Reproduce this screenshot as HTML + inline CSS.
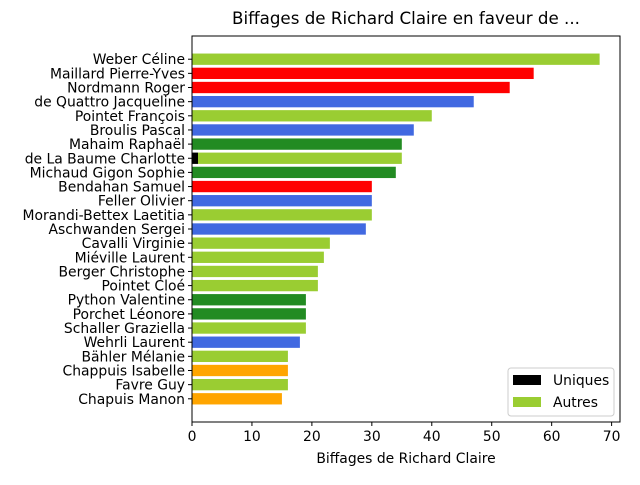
<!DOCTYPE html>
<html><head><meta charset="utf-8"><style>
body{margin:0;background:#fff;}
svg text{font-family:"DejaVu Sans","Liberation Sans",sans-serif;fill:#000;}
</style></head><body>
<svg id="chart" width="640" height="480">
<text x="406" y="24" font-size="16.7" text-anchor="middle">Biffages de Richard Claire en faveur de ...</text>
<g id="bars"></g>
<g id="axes"></g>
<text x="406" y="463" font-size="13.9" text-anchor="middle">Biffages de Richard Claire</text>
<g>
<rect x="508" y="368" width="106" height="48" fill="#fff" stroke="#ccc" rx="3"/>
<rect x="513" y="375" width="28" height="10" fill="#000"/>
<text x="553" y="385" font-size="13.9">Uniques</text>
<rect x="513" y="397" width="28" height="10" fill="#9acd32"/>
<text x="553" y="407" font-size="13.9">Autres</text>
</g>
</svg>
<script>
const names=["Weber Céline","Maillard Pierre-Yves","Nordmann Roger","de Quattro Jacqueline","Pointet François","Broulis Pascal","Mahaim Raphaël","de La Baume Charlotte","Michaud Gigon Sophie","Bendahan Samuel","Feller Olivier","Morandi-Bettex Laetitia","Aschwanden Sergei","Cavalli Virginie","Miéville Laurent","Berger Christophe","Pointet Cloé","Python Valentine","Porchet Léonore","Schaller Graziella","Wehrli Laurent","Bähler Mélanie","Chappuis Isabelle","Favre Guy","Chapuis Manon"];
const autres=[68,57,53,47,40,37,35,34,34,30,30,30,29,23,22,21,21,19,19,19,18,16,16,16,15];
const uniques=[0,0,0,0,0,0,0,1,0,0,0,0,0,0,0,0,0,0,0,0,0,0,0,0,0];
const colors=["#9acd32","#ff0000","#ff0000","#4169e1","#9acd32","#4169e1","#228b22","#9acd32","#228b22","#ff0000","#4169e1","#9acd32","#4169e1","#9acd32","#9acd32","#9acd32","#9acd32","#228b22","#228b22","#9acd32","#4169e1","#9acd32","#ffa500","#9acd32","#ffa500"];
const xticks=[0,10,20,30,40,50,60,70];
const L=192,R=620,T=36,B=422;
const xmax=71.4;
const x=v=>L+v/xmax*(R-L);
const n=names.length;
const ymin=-0.4-0.05*(n-0.2), ymax=n-1+0.4+0.05*(n-0.2);
const y=i=>T+(i-ymin)/(ymax-ymin)*(B-T);
const bh=0.8*(B-T)/(ymax-ymin);
const NS="http://www.w3.org/2000/svg";
const bars=document.getElementById('bars'),axes=document.getElementById('axes');
function mk(tag,attrs,parent){const e=document.createElementNS(NS,tag);for(const k in attrs)e.setAttribute(k,attrs[k]);parent.appendChild(e);return e;}
names.forEach((nm,i)=>{
  const cy=y(i);
  const u=uniques[i];
  if(u>0){const r=mk('rect',{x:x(0),y:cy-bh/2,width:x(u)-x(0),height:bh,fill:'#000'},bars);
    
    }
  const a=mk('rect',{x:x(u),y:cy-bh/2,width:x(u+autres[i])-x(u),height:bh,fill:colors[i]},bars);
  
  
  mk('line',{x1:L-4,x2:L,y1:cy,y2:cy,stroke:'#000'},axes);
  const t=mk('text',{x:L-7,y:cy+5,'font-size':13.9,'text-anchor':'end'},axes);
  t.textContent=nm;
  
  
});
xticks.forEach(v=>{
  mk('line',{x1:x(v),x2:x(v),y1:B,y2:B+4,stroke:'#000'},axes);
  const t=mk('text',{x:x(v),y:B+19,'font-size':13.9,'text-anchor':'middle'},axes);
  t.textContent=v;
  
  
});
const f=mk('rect',{x:L,y:T,width:R-L,height:B-T,fill:'none',stroke:'#000','stroke-width':1},axes);


</script>
</body></html>
